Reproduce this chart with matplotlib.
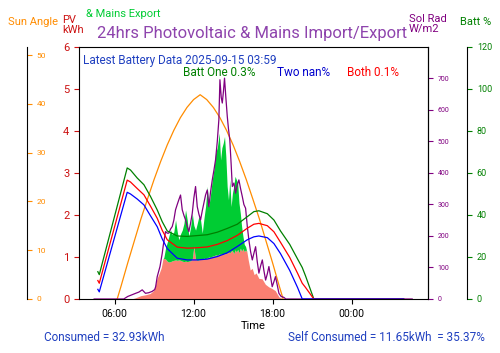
import matplotlib
matplotlib.use("Agg")
import matplotlib.pyplot as plt
import matplotlib.dates as mdates
from datetime import datetime, timedelta

plt.rcParams['font.family'] = ['Roboto', 'DejaVu Sans']

day = datetime(2025, 9, 14)

# battery state of charge (%), hours from midnight of day one
batt_hours = [4.73, 4.84, 6.96, 7.21, 7.72, 8.23, 8.73, 9.24, 9.62, 10.0, 10.76,
              11.52, 12.28, 13.04, 13.8, 14.56, 15.32, 16.08, 16.58, 16.96, 17.6,
              18.1, 18.6, 19.3, 19.9, 20.25, 20.5, 21.13, 27.95]
batt_one = [13.0, 11.6, 62.4, 61.4, 57.6, 54.4, 48.8, 42.4, 36.8, 32.4, 30.0,
            29.8, 30.2, 30.6, 31.8, 33.6, 35.6, 39.2, 41.6, 42.0, 40.6,
            37.6, 32.4, 26.0, 19.0, 15.0, 11.0, 0.0, 0.0]
batt_both = [8.8, 7.5, 56.6, 55.7, 52.6, 49.6, 44.2, 38.4, 32.7, 28.2, 24.7,
             24.2, 24.4, 24.8, 26.0, 27.8, 30.3, 33.7, 35.6, 36.0, 34.9,
             32.0, 27.0, 19.8, 12.2, 7.5, 5.5, 0.0, 0.0]
batt_two = [4.6, 3.4, 50.8, 50.0, 47.6, 44.8, 39.6, 34.4, 28.6, 24.0, 19.4,
            18.6, 18.6, 19.0, 20.2, 22.0, 25.0, 28.2, 29.6, 30.0, 29.2,
            26.4, 21.6, 13.6, 5.4, 0.0, 0.0, 0.0, 0.0]

# sun elevation (degrees)
sun_hours = [6.2, 6.5, 7.0, 7.5, 8.0, 8.5, 9.0, 9.5, 10.0, 10.5, 11.0, 11.5, 12.0,
             12.5, 13.0, 13.5, 14.0, 14.5, 15.0, 15.5, 16.0, 16.5, 17.0, 17.5,
             18.0, 18.5, 18.8]
sun_angle = [0.0, 2.7, 7.4, 11.9, 16.4, 20.5, 24.5, 28.2, 31.6, 34.6, 37.2, 39.3,
             40.9, 41.9, 40.9, 39.3, 37.2, 34.6, 31.6, 28.2, 24.5, 20.5, 16.4,
             11.9, 7.4, 2.7, 0.0]

# solar radiation (W/m2)
rad_hours = [4.45, 6.7, 7.0, 7.3, 7.6, 7.85, 8.1, 8.35, 8.6, 8.85, 9.05, 9.12, 9.24,
             9.45, 9.62, 9.7, 9.87, 10.0, 10.12, 10.25, 10.38, 10.5, 10.63, 10.76,
             10.88, 11.01, 11.14, 11.27, 11.39, 11.52, 11.64, 11.77, 11.9, 12.02,
             12.15, 12.28, 12.4, 12.53, 12.66, 12.78, 12.91, 13.04, 13.16, 13.29,
             13.42, 13.55, 13.67, 13.8, 13.92, 14.0, 14.1, 14.18, 14.27, 14.35,
             14.45, 14.56, 14.65, 14.75, 14.85, 14.94, 15.06, 15.19, 15.3, 15.44,
             15.57, 15.7, 15.82, 15.95, 16.08, 16.2, 16.33, 16.46, 16.58, 16.71,
             16.83, 16.96, 17.09, 17.22, 17.34, 17.47, 17.6, 17.72, 17.85, 17.97,
             18.1, 18.22, 18.35, 18.48, 18.65, 18.86, 19.0, 28.6]
sol_rad = [0, 0, 8, 13, 18, 22, 29, 18, 20, 24, 30, 39, 71,
           103, 145, 170, 214, 209, 209, 222, 230, 250, 283, 300,
           315, 330, 283, 265, 251, 230, 214, 240, 272, 320,
           357, 293, 270, 251, 280, 304, 330, 346, 293, 340,
           378, 410, 442, 500, 569, 696, 640, 622, 660, 701,
           640, 579, 540, 505, 430, 357, 368, 336, 360, 378,
           350, 325, 300, 288, 230, 187, 150, 124, 145, 166,
           120, 82, 105, 124, 90, 60, 80, 103, 70, 39,
           55, 71, 45, 18, 8, 5, 0, 0]

# PV (kWh): self consumed part and total generated
fill_hours = [7.3, 7.6, 8.0, 8.35, 8.7, 8.96, 9.11, 9.24, 9.4, 9.55, 9.67, 9.75,
              9.87, 10.0, 10.12, 10.25, 10.38, 10.5, 10.63, 10.76, 10.88, 11.01,
              11.14, 11.27, 11.39, 11.52, 11.64, 11.77, 11.9, 12.02, 12.15, 12.28,
              12.4, 12.53, 12.66, 12.78, 12.91, 13.04, 13.16, 13.29, 13.42, 13.55,
              13.67, 13.8, 13.95, 14.05, 14.15, 14.25, 14.35, 14.45, 14.55, 14.65,
              14.75, 14.85, 14.95, 15.05, 15.15, 15.25, 15.35, 15.45, 15.55, 15.65,
              15.75, 15.85, 15.95, 16.05, 16.15, 16.3, 16.45, 16.6, 16.75, 16.96,
              17.2, 17.45, 17.7, 17.95, 18.2, 18.48, 18.7, 18.9]
self_kwh = [0.0, 0.03, 0.08, 0.10, 0.13, 0.20, 0.35, 0.50, 0.62, 0.75, 0.95, 0.97,
            0.95, 0.90, 0.88, 0.89, 0.91, 0.92, 0.93, 0.92, 0.93, 0.92,
            0.90, 0.89, 0.90, 0.89, 0.90, 0.91, 0.95, 1.25, 0.95, 0.92,
            0.93, 0.95, 0.96, 0.97, 0.96, 0.98, 1.00, 0.99, 1.02, 1.03,
            1.05, 1.04, 1.07, 1.06, 1.08, 1.06, 1.09, 1.08, 1.10, 1.12,
            1.10, 1.14, 1.15, 1.08, 1.17, 1.12, 1.18, 1.10, 1.21, 1.14,
            1.20, 1.13, 1.17, 1.12, 0.93, 0.69, 0.73, 0.58, 0.62, 0.49,
            0.48, 0.35, 0.29, 0.25, 0.20, 0.05, 0.02, 0.0]
pv_kwh = [0.0, 0.03, 0.08, 0.10, 0.13, 0.20, 0.35, 0.50, 0.62, 0.75, 0.95, 1.00,
          1.21, 1.35, 1.49, 1.64, 1.53, 1.60, 1.88, 1.60, 1.41, 1.55,
          1.64, 1.80, 2.12, 1.88, 1.49, 1.70, 2.04, 1.75, 1.64, 1.80,
          1.96, 1.88, 1.57, 1.90, 2.20, 2.68, 2.20, 2.50, 2.84, 3.10,
          3.47, 3.60, 3.95, 3.31, 3.60, 3.71, 3.87, 3.39, 2.68, 2.36,
          2.84, 2.20, 2.52, 2.68, 2.92, 2.84, 2.76, 2.28, 2.04, 1.72,
          1.49, 1.30, 1.25, 1.12, 0.93, 0.69, 0.73, 0.58, 0.62, 0.49,
          0.48, 0.35, 0.29, 0.25, 0.20, 0.05, 0.02, 0.0]


def at(hours):
    return [day + timedelta(hours=h) for h in hours]


fig = plt.figure(figsize=(5, 3.53), dpi=100)
ax = fig.add_axes([0.158, 0.153, 0.698, 0.714])

ax.fill_between(at(fill_hours), 0, self_kwh, color='salmon', lw=0)
ax.fill_between(at(fill_hours), self_kwh, pv_kwh, color='#00cc33', lw=0)
ax.set_ylim(0, 6)
ax.set_xlim(day + timedelta(hours=3.3), day + timedelta(hours=29.8))
ax.xaxis.set_major_locator(mdates.HourLocator(byhour=[0, 6, 12, 18]))
ax.xaxis.set_major_formatter(mdates.DateFormatter('%H:%M'))
ax.tick_params(axis='x', labelsize=7.5)
ax.tick_params(axis='y', colors='#cc1111', labelsize=8)
ax.set_xlabel('Time', fontsize=8, labelpad=2)

sun = ax.twinx()
sun.plot(at(sun_hours), sun_angle, color='darkorange', lw=0.9)
sun.set_ylim(0, 51.7)
sun.set_yticks([0, 10, 20, 30, 40, 50])
sun.spines['right'].set_position(('axes', -0.149))
sun.tick_params(axis='y', colors='darkorange', labelsize=6)
sun.spines['right'].set_color('black')

rad = ax.twinx()
rad.plot(at(rad_hours), sol_rad, color='purple', lw=0.9)
rad.set_ylim(0, 800)
rad.set_yticks(range(0, 800, 100))
rad.tick_params(axis='y', colors='purple', labelsize=5)
rad.spines['right'].set_color('black')

batt = ax.twinx()
batt.plot(at(batt_hours), batt_one, color='green', lw=0.9)
batt.plot(at(batt_hours), batt_both, color='red', lw=0.9)
batt.plot(at(batt_hours), batt_two, color='blue', lw=0.9)
batt.set_ylim(0, 120)
batt.set_yticks(range(0, 121, 20))
batt.spines['right'].set_position(('axes', 1.112))
batt.tick_params(axis='y', colors='green', labelsize=6.5)
batt.spines['right'].set_color('black')

for a in (sun, rad, batt):
    for s in ('top', 'left', 'bottom'):
        a.spines[s].set_visible(False)

fig.text(0.066, 0.938, 'Sun Angle', color='darkorange', fontsize=8, ha='center', va='center')
fig.text(0.124, 0.93, 'PV\nkWh', color='#cc1111', fontsize=8, ha='left', va='center', linespacing=1.0)
fig.text(0.172, 0.960, '& Mains Export', color='#00cc33', fontsize=8, ha='left', va='center')
fig.text(0.505, 0.905, '24hrs Photovoltaic & Mains Import/Export', color='#8e44ad',
         fontsize=12, ha='center', va='center')
fig.text(0.818, 0.933, 'Sol Rad\nW/m2', color='purple', fontsize=8, ha='left', va='center',
         linespacing=1.0)
fig.text(0.92, 0.938, 'Batt %', color='green', fontsize=8, ha='left', va='center')

fig.text(0.166, 0.830, 'Latest Battery Data 2025-09-15 03:59', color='#2040c0',
         fontsize=8.5, ha='left', va='center')
fig.text(0.366, 0.796, 'Batt One 0.3%', color='green', fontsize=8.5, ha='left', va='center')
fig.text(0.554, 0.796, 'Two nan%', color='mediumblue', fontsize=8.5, ha='left', va='center')
fig.text(0.694, 0.796, 'Both 0.1%', color='red', fontsize=8.5, ha='left', va='center')

fig.text(0.088, 0.045, 'Consumed = 32.93kWh', color='#2040c0', fontsize=8.5,
         ha='left', va='center')
fig.text(0.576, 0.045, 'Self Consumed = 11.65kWh  = 35.37%', color='#2040c0',
         fontsize=8.5, ha='left', va='center')

fig.savefig('out.png', dpi=100)
